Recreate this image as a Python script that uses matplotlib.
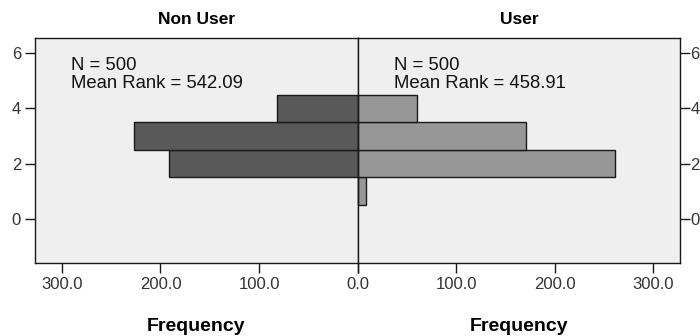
import matplotlib
matplotlib.use('Agg')

import matplotlib.pyplot as plt
import numpy as np

# Häufigkeiten je Kategorie (1..4) pro Gruppe
categories = [1, 2, 3, 4]
non_user_freq = [0, 191, 227, 82]
user_freq = [8, 261, 171, 60]
groups = ['Non User', 'User']
n_values = [500, 500]
mean_ranks = [542.09, 458.91]
x_ticks = [0, 100, 200, 300]
y_ticks = [0, 2, 4, 6]

plt.rcParams['font.family'] = ['Liberation Sans', 'DejaVu Sans']

fig = plt.figure(figsize=(7, 3.36), dpi=100)
ax_l = fig.add_axes([35 / 700, 1 - 263 / 336, 323 / 700, 225 / 336])
ax_r = fig.add_axes([358 / 700, 1 - 263 / 336, 322 / 700, 225 / 336])

bg = '#efefef'
colors = ['#595959', '#979797']
tick_col = '#333333'

for i, (ax, freq) in enumerate(zip([ax_l, ax_r], [non_user_freq, user_freq])):
    ax.set_facecolor(bg)
    ax.barh(categories, freq, height=1.0, color=colors[i],
            edgecolor='#1a1a1a', linewidth=1.0, zorder=2)
    ax.set_ylim(-1.6, 6.55)
    ax.set_xticks(x_ticks)
    ax.set_yticks(y_ticks)
    ax.tick_params(axis='both', length=7, width=1.0, color='#1a1a1a',
                   labelsize=12, labelcolor=tick_col, pad=3)
    for s in ax.spines.values():
        s.set_color('#1a1a1a')
        s.set_linewidth(1.0)
    ax.set_title(groups[i], fontsize=12.5, fontweight='bold', pad=10)
    ax.set_xlabel('Frequency', fontsize=14, fontweight='bold', labelpad=19)
    ax.text(0.112, 0.858, f'N = {n_values[i]}', transform=ax.transAxes,
            fontsize=13.3, va='baseline', ha='left', color='#111111')
    ax.text(0.112, 0.778, f'Mean Rank = {mean_ranks[i]:.2f}', transform=ax.transAxes,
            fontsize=13.3, va='baseline', ha='left', color='#111111')

# 0.0 nur einmal beschriften (rechte Achse)
ax_l.set_xticklabels(['' if v == 0 else f'{v:.1f}' for v in x_ticks])
ax_r.set_xticklabels([f'{v:.1f}' for v in x_ticks])

ax_l.set_xlim(327, 0)
ax_r.set_xlim(0, 327)
ax_r.yaxis.tick_right()
ax_r.tick_params(axis='y', pad=0.5)
ax_r.spines['left'].set_zorder(3)
ax_l.spines['right'].set_zorder(3)

fig.savefig('out.png', dpi=100, facecolor='white')
